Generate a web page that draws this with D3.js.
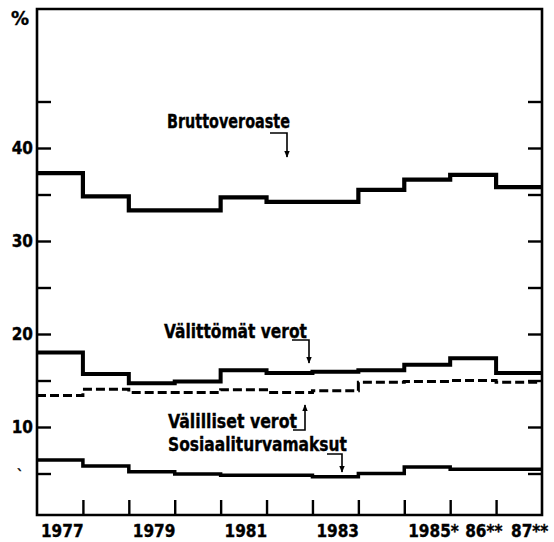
<!DOCTYPE html>
<html>
<head>
<meta charset="utf-8">
<script src="https://cdn.jsdelivr.net/npm/d3@7"></script>
<style>
  html, body { margin: 0; padding: 0; background: #fff; }
  svg { display: block; }
  text { font-family: "Liberation Sans Narrow", "Arial Narrow", "DejaVu Sans Condensed", "Roboto Condensed", sans-serif; font-weight: bold; fill: #000; stroke: #000; stroke-width: 0.35; }
</style>
</head>
<body>
<svg id="chart" width="554" height="542"></svg>
<script>
// ---- data ----
const years = [1977, 1978, 1979, 1980, 1981, 1982, 1983, 1984, 1985, 1986, 1987];
const bruttoveroaste = [37.3, 34.8, 33.3, 33.3, 34.7, 34.2, 34.2, 35.5, 36.6, 37.1, 35.8];
const valittomatVerot = [18.0, 15.7, 14.7, 14.9, 16.1, 15.8, 15.95, 16.1, 16.7, 17.4, 15.8];
const valillisetVerot = [13.4, 14.05, 13.7, 13.7, 14.0, 13.7, 13.9, 14.8, 14.9, 15.0, 14.8];
const sosiaaliturvamaksut = [6.45, 5.8, 5.2, 4.95, 4.8, 4.8, 4.65, 5.0, 5.7, 5.45, 5.45];
const xTickLabels = ["1977", "", "1979", "", "1981", "", "1983", "", "1985*", "86**", "87**"];
const yTickValues = [5, 10, 15, 20, 25, 30, 35, 40, 45];
const yTickLabels = ["", "10", "", "20", "", "30", "", "40", ""];
const seriesLabels = ["Bruttoveroaste", "Välittömät verot", "Välilliset verot", "Sosiaaliturvamaksut"];

// ---- layout ----
const svg = d3.select("#chart");
const mLeft = 37, mRight = 542, mTop = 9, mBottom = 515;
const x = d3.scaleLinear().domain([1977, 1988]).range([mLeft, mRight]);
const y = d3.scaleLinear().domain([0, 55]).range([520, 8.5]);

// frame
svg.append("path")
  .attr("d", `M${mLeft},${mTop}H${mRight}V${mBottom}H${mLeft}Z`)
  .attr("fill", "none").attr("stroke", "#000").attr("stroke-width", 2.6);

// left axis ticks (inward)
const yAxisL = d3.axisRight(y).tickValues(yTickValues).tickSize(14).tickFormat("");
svg.append("g").attr("transform", `translate(${mLeft},0)`).call(yAxisL)
  .call(g => g.select(".domain").remove())
  .call(g => g.selectAll("line").attr("stroke", "#000").attr("stroke-width", 2.4));
// right axis ticks (inward)
const yAxisR = d3.axisLeft(y).tickValues(yTickValues).tickSize(14).tickFormat("");
svg.append("g").attr("transform", `translate(${mRight},0)`).call(yAxisR)
  .call(g => g.select(".domain").remove())
  .call(g => g.selectAll("line").attr("stroke", "#000").attr("stroke-width", 2.4));
// left labels
svg.append("g").selectAll("text").data(yTickValues.map((v, i) => ({v, t: yTickLabels[i]})).filter(d => d.t))
  .join("text")
  .attr("x", 33).attr("y", d => y(d.v) + 6)
  .attr("text-anchor", "end").attr("font-size", 17)
  .text(d => d.t);
svg.append("text").attr("x", 11).attr("y", 25).attr("font-size", 20).text("%");
svg.append("text").attr("x", 17).attr("y", 480).attr("font-size", 14).text("`");

// bottom ticks (inward)
const xAxis = d3.axisTop(x).tickValues(d3.range(1978, 1988)).tickSize(15).tickFormat("");
svg.append("g").attr("transform", `translate(0,${mBottom})`).call(xAxis)
  .call(g => g.select(".domain").remove())
  .call(g => g.selectAll("line").attr("stroke", "#000").attr("stroke-width", 2.4));
// bottom labels
svg.append("g").selectAll("text").data(years.map((yr, i) => ({yr, t: xTickLabels[i]})).filter(d => d.t))
  .join("text")
  .attr("x", d => (x(d.yr) + x(d.yr + 1)) / 2 - (d.t.startsWith("19") ? 19 : 8))
  .attr("y", 537).attr("font-size", 17)
  .text(d => d.t);

// step lines
const step = d3.line().x(d => x(d[0])).y(d => y(d[1])).curve(d3.curveStepAfter);
function pts(vals) {
  const p = years.map((yr, i) => [yr, vals[i]]);
  p.push([years[years.length - 1] + 1, vals[vals.length - 1]]);
  return p;
}
svg.append("path").attr("d", step(pts(bruttoveroaste)))
  .attr("fill", "none").attr("stroke", "#000").attr("stroke-width", 4.2);
svg.append("path").attr("d", step(pts(valittomatVerot)))
  .attr("fill", "none").attr("stroke", "#000").attr("stroke-width", 4);
svg.append("path").attr("d", step(pts(valillisetVerot)))
  .attr("fill", "none").attr("stroke", "#000").attr("stroke-width", 3).attr("stroke-dasharray", "9,4");
svg.append("path").attr("d", step(pts(sosiaaliturvamaksut)))
  .attr("fill", "none").attr("stroke", "#000").attr("stroke-width", 3.5);

// arrowheads
const defs = svg.append("defs");
defs.append("marker").attr("id", "ah").attr("viewBox", "0 0 10 10")
  .attr("refX", 9).attr("refY", 5).attr("markerWidth", 7).attr("markerHeight", 7)
  .attr("markerUnits", "userSpaceOnUse").attr("orient", "auto")
  .append("path").attr("d", "M0,1L10,5L0,9Z").attr("fill", "#000");

// series labels
const labels = [
  {t: seriesLabels[0], x: 167, y: 128, w: 123, arrow: "M270,133H287V157"},
  {t: seriesLabels[1], x: 164, y: 338, w: 143, arrow: "M292,340H309V363"},
  {t: seriesLabels[2], x: 168, y: 428, w: 129, arrow: "M293,430H305V405"},
  {t: seriesLabels[3], x: 168, y: 451, w: 179, arrow: "M327,454H342V472"}
];
svg.append("g").selectAll("text").data(labels).join("text")
  .attr("x", d => d.x).attr("y", d => d.y)
  .attr("font-size", 20)
  .attr("textLength", d => d.w).attr("lengthAdjust", "spacingAndGlyphs")
  .text(d => d.t);
svg.append("g").selectAll("path").data(labels).join("path")
  .attr("d", d => d.arrow)
  .attr("fill", "none").attr("stroke", "#000").attr("stroke-width", 1.6)
  .attr("marker-end", "url(#ah)");
</script>
</body>
</html>
